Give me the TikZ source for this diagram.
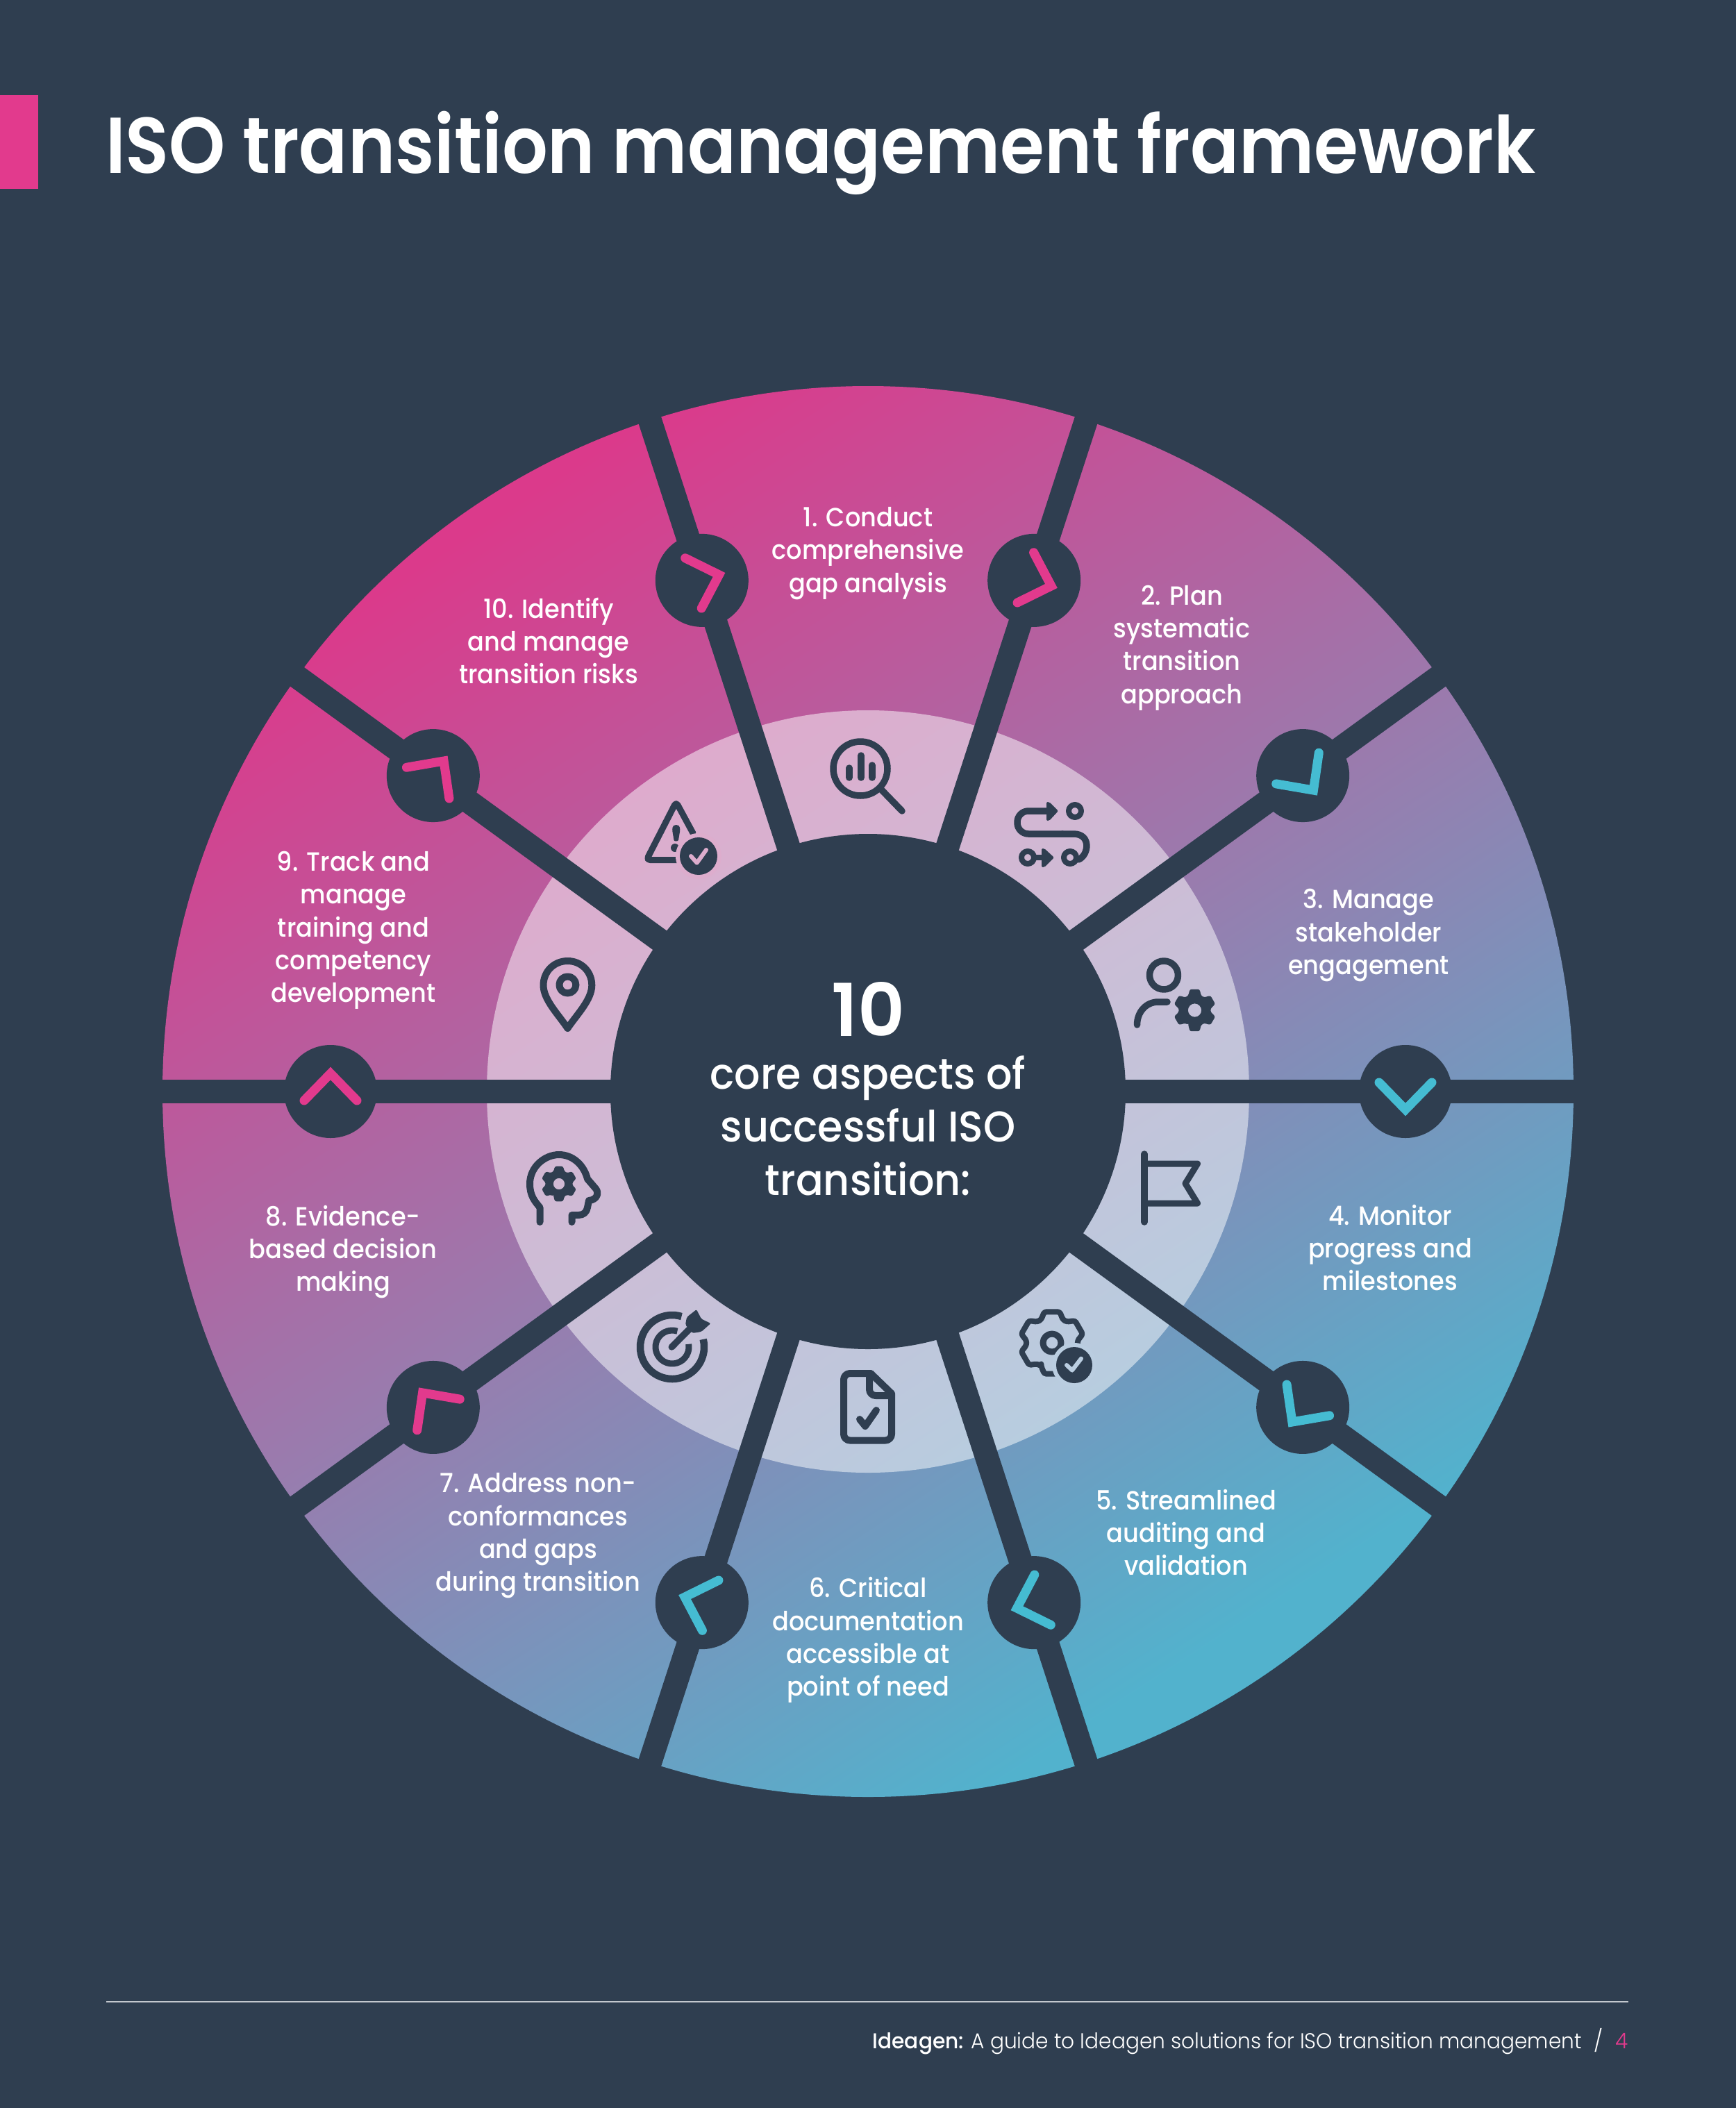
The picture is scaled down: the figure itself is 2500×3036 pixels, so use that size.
\documentclass[tikz,border=0pt]{standalone}
\usepackage{fontspec}
\setmainfont{Poppins}
\newfontfamily\semi{Poppins SemiBold}
\newfontfamily\titlef[FakeStretch=0.906]{Poppins SemiBold}
\newfontfamily\labf[FakeStretch=0.925]{Poppins Medium}
\newfontfamily\midf[FakeStretch=0.947]{Poppins Medium}
\newfontfamily\footb[FakeStretch=0.956]{Poppins Medium}
\newfontfamily\footl[FakeStretch=0.956]{Poppins Light}
\definecolor{bgc}{HTML}{2F3E50}
\definecolor{pinkc}{HTML}{E23A8D}
\definecolor{cyanc}{HTML}{45BCD2}
\definecolor{gA}{HTML}{DB3A8B}
\definecolor{gM}{HTML}{997CAE}
\definecolor{gB}{HTML}{52B2CD}
\definecolor{ringtop}{RGB}{221,173,205}
\definecolor{ringbot}{RGB}{186,205,224}
\pgfdeclareverticalshading{wheelgrad}{2300pt}{color(0pt)=(gB); color(80pt)=(gB); color(1020pt)=(gM); color(2010pt)=(gA); color(2040pt)=(gA)}
\tikzset{
  every node/.style={inner sep=0pt,outer sep=0pt},
  lab/.style={text=white,align=center,font=\labf\fontsize{38}{47.3}\selectfont},
  mid/.style={text=white,align=center,font=\midf\fontsize{62}{76.5}\selectfont},
  spoke/.style={draw=bgc,line width=34pt,shorten <=-2pt},
  dot/.style={circle,fill=bgc,minimum size=134pt},
  hub/.style={circle,fill=bgc,minimum size=742pt},
  chev/.style={line width=13pt,line cap=round,line join=miter},
  ico/.style={draw=bgc,line width=9.5pt,line cap=round,line join=round},
  icof/.style={fill=bgc},
  tick/.style={line width=6pt,line cap=round,line join=round},
}
\newcommand{\gearfill}[4]{% cx cy outer root
  \fill[icof,even odd rule,rounded corners=2.5pt] ({#1+#4*cos(114)},{#2+#4*sin(114)})
    \foreach \t in {90,30,-30,-90,-150,-210}{
      -- ({#1+#4*cos(\t+24)},{#2+#4*sin(\t+24)}) -- ({#1+#3*cos(\t+13)},{#2+#3*sin(\t+13)}) -- ({#1+#3*cos(\t-13)},{#2+#3*sin(\t-13)}) -- ({#1+#4*cos(\t-24)},{#2+#4*sin(\t-24)})
    } -- cycle (#1,#2) circle ({#4*0.42});
}
\begin{document}
\begin{tikzpicture}[x=1pt,y=-1pt]
\useasboundingbox (0,0) rectangle (2500,3036);
\fill[bgc] (0,0) rectangle (2500,3036);
\fill[pinkc] (0,137) rectangle (55,272);
\node[anchor=base west,text=white,font=\titlef\fontsize{114}{114}\selectfont] (title) at (152,249) {ISO transition management framework};

% wheel gradient
\begin{scope}
  \clip (1250,1572) circle (1016);
  \begin{scope}[shift={(1250,1572)},rotate=33]
    \pgflowlevelsynccm
    \pgftext{\pgfuseshading{wheelgrad}}
  \end{scope}
  \fill[white,opacity=0.5] (1250,1572) circle (549);
\end{scope}

% hub, spokes and dots
\node[hub] (hubn) at (1250,1572) {};
\begin{scope}[shift={(1250,1572)},yscale=-1]
  \foreach \a/\n/\c in {72/1/pinkc,36/2/cyanc,0/3/cyanc,-36/4/cyanc,-72/5/cyanc,-108/6/cyanc,-144/7/pinkc,180/8/pinkc,144/9/pinkc,108/10/pinkc}{
    \coordinate (rim\n) at (\a:1024);
    \draw[spoke] (hubn) -- (rim\n);
    \node[dot] (dot\n) at (\a:774) {};
    \begin{scope}[shift={(\a:774)},rotate=-\a]
      \draw[chev,draw=\c] (-38,13) -- (0,-26) -- (38,13);
    \end{scope}
  }
\end{scope}

% icon 1 magnifier
\draw[ico] (1239,1107) circle (39);
\draw[ico] (1268,1136) -- (1299,1168);
\draw[ico] (1223,1106) -- (1223,1120);
\draw[ico] (1240,1088) -- (1240,1120);
\draw[ico] (1256,1102) -- (1256,1120);
% icon 2 route
\draw[ico,rounded corners=16pt] (1512,1168) -- (1465,1168) -- (1465,1201) -- (1530,1201);
\draw[ico] (1530,1201) -- (1546,1201) .. controls (1572,1201) and (1568,1232) .. (1553,1238);
\fill[icof,rounded corners=2pt] (1507,1155) -- (1511,1155) -- (1524,1168) -- (1511,1182) -- (1507,1182) -- cycle;
\draw[ico,line width=8pt] (1548,1168) circle (9);
\draw[ico,line width=8pt] (1480,1235) circle (9);
\draw[ico,line width=8pt] (1541,1235) circle (9);
\draw[ico,line width=8pt] (1490,1235) -- (1505,1235);
\fill[icof,rounded corners=2pt] (1500,1222) -- (1504,1222) -- (1518,1235) -- (1504,1249) -- (1500,1249) -- cycle;
% icon 3 person gear
\draw[ico] (1676,1404.5) circle (20.5);
\draw[ico] (1681,1443) -- (1668,1443) .. controls (1650,1443) and (1637.5,1458) .. (1637.5,1476);
\gearfill{1720.5}{1455}{31}{23}
% icon 4 flag
\draw[ico] (1648,1662) -- (1648,1760);
\draw[ico,line width=9pt] (1648,1676) -- (1724.5,1676) -- (1707,1704.5) -- (1724.5,1733) -- (1648,1733);
% icon 5 gear check
\draw[ico,line width=8pt,rounded corners=3pt] ({1515+37*cos(115)},{1934+37*sin(115)})
  \foreach \t in {90,30,-30,-90,-150,-210}{
    -- ({1515+37*cos(\t+25)},{1934+37*sin(\t+25)}) -- ({1515+46*cos(\t+14)},{1934+46*sin(\t+14)}) -- ({1515+46*cos(\t-14)},{1934+46*sin(\t-14)}) -- ({1515+37*cos(\t-25)},{1934+37*sin(\t-25)})
  } -- cycle;
\draw[ico,line width=9pt] (1515,1934) circle (13);
\fill[ringbot] (1547,1966) circle (32);
\fill[icof] (1547,1966) circle (26);
\draw[tick,draw=ringbot] (1536,1966) -- (1544,1973.5) -- (1557,1956.6);
% icon 6 document
\draw[ico,line width=10pt,rounded corners=9pt] (1254,1978) -- (1215,1978) -- (1215,2074.5) -- (1284,2074.5) -- (1284,2007) ;
\draw[ico,line width=10pt] (1254,1978) -- (1284,2007);
\draw[ico,line width=10pt,rounded corners=9pt] (1252,1978) -- (1252,2010) -- (1284,2010);
\draw[ico,line width=10pt] (1238,2044) -- (1246,2054) -- (1262,2031);
% icon 7 target
\draw[ico,line width=10.5pt,line cap=butt] ([shift={(-73:46)}]968,1940) arc[start angle=-73,end angle=-374,radius=46];
\draw[ico,line width=9pt,line cap=butt] ([shift={(-72:24)}]968,1940) arc[start angle=-72,end angle=-370,radius=24];
\draw[ico] (967.3,1940) -- (992,1915);
\fill[icof,rounded corners=2pt] (987,1908) -- (989,1897) -- (1003,1886) -- (1010,1899.5) -- (1023.5,1906) -- (1010,1918) -- (997,1920) -- cycle;
% icon 8 head
\draw[ico,line width=10pt] (777.5,1760) -- (777.5,1739) .. controls (770,1730) and (763,1722) .. (763,1705) .. controls (763,1680) and (785,1663) .. (805,1663) .. controls (825,1663) and (841,1678) .. (846,1698) -- (858,1712) .. controls (863,1718) and (860,1728) .. (848,1729) -- (846,1739) .. controls (845,1746) and (840,1750) .. (833,1750) -- (823.5,1750) -- (823.5,1760);
\gearfill{805}{1705}{26}{19.5}
% icon 9 pin
\draw[ico,line width=10pt] (817.4,1481) .. controls (805,1462) and (782.5,1440) .. (782.5,1419) .. controls (782.5,1399) and (798,1384) .. (817.4,1384) .. controls (836.8,1384) and (852.3,1399) .. (852.3,1419) .. controls (852.3,1440) and (830,1462) .. (817.4,1481) -- cycle;
\draw[ico,line width=10pt] (817.4,1418.4) circle (12);
% icon 10 warning
\draw[ico,line width=9pt,rounded corners=5pt] (998,1200) -- (973.7,1155) -- (931,1238.5) -- (975,1238.5);
\fill[icof] (973.7,1188) .. controls (980,1188) and (979.5,1194) .. (979,1198) -- (977,1210) .. controls (976,1212) and (971,1212) .. (970.5,1210) -- (968.5,1198) .. controls (968,1194) and (967.5,1188) .. (973.7,1188) -- cycle;
\fill[icof] (972,1221) circle (6);
\fill[ringtop] (1006,1233) circle (33);
\fill[icof] (1006,1233) circle (27);
\draw[tick,draw=ringtop] (995,1233) -- (1003.6,1242.7) -- (1017,1224);

% labels
\node[lab] (t1) at (1250,797) {1. Conduct\\comprehensive\\gap analysis};
\node[lab] (t2) at (1702,933) {2. Plan\\systematic\\transition\\approach};
\node[lab] (t3) at (1971,1347) {3. Manage\\stakeholder\\engagement};
\node[lab] (t4) at (2002,1797) {4. Monitor\\progress and\\milestones};
\node[lab] (t5) at (1708,2207) {5. Streamlined\\auditing and\\validation};
\node[lab] (t6) at (1250,2362) {6. Critical\\documentation\\accessible at\\point of need};
\node[lab] (t7) at (775,2212) {7. Address non-\\conformances\\and gaps\\during transition};
\node[lab] (t8) at (494,1803) {8. Evidence-\\based decision\\making};
\node[lab] (t9) at (509,1340) {9. Track and\\manage\\training and\\competency\\development};
\node[lab] (t10) at (790,923) {10. Identify\\and manage\\transition risks};

% centre
\node[text=white,font=\semi\fontsize{105}{105}\selectfont,anchor=base] (ten) at (1250,1492) {10};
\node[mid,anchor=center] (core) at (1250,1621) {core aspects of\\successful ISO\\transition:};

% footer
\coordinate (fa) at (153,2883);
\coordinate (fb) at (2345,2883);
\draw[color={rgb,255:red,195;green,200;blue,206},line width=2pt] (fa) -- (fb);
\node[anchor=base east,text=white,font=\footl\fontsize{31}{31}\selectfont] (foot) at (2278,2950) {{\footb Ideagen:} A guide to Ideagen solutions for ISO transition management};
\node[anchor=base,text=white,font=\footl\fontsize{31}{31}\selectfont] (slash) at (2302,2950) {/};
\node[anchor=base east,text=pinkc,font=\footl\fontsize{31}{31}\selectfont] (pg) at (2345,2950) {4};
\end{tikzpicture}
\end{document}
